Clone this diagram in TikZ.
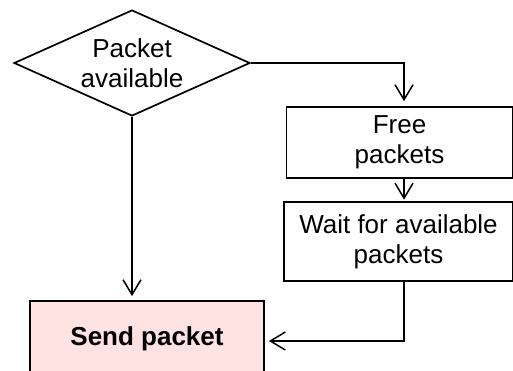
\documentclass[tikz,border=0pt]{standalone}
\usepackage{fontspec}
\setmainfont{Liberation Sans}
\usetikzlibrary{shapes.geometric,arrows.meta}
\definecolor{sendfill}{RGB}{255,226,226}
\begin{document}
\begin{tikzpicture}[x=1pt,y=-1pt,
  every node/.style={font=\fontsize{26}{30}\selectfont, align=center, inner sep=0pt},
  decision/.style={diamond, draw, line width=1.7pt, minimum width=236pt,
                   minimum height=106pt, shape aspect=2.2},
  process/.style={rectangle, draw, line width=1.7pt},
  conn/.style={line width=1.7pt,
               -{Straight Barb[length=15pt,width=18pt,line width=1.5pt]}},
  ]
  \useasboundingbox (0,0) rectangle (513,370);
  \clip (0,0) rectangle (513,370);

  % flowchart nodes
  \node[decision] (pkt) at (132,63) {Packet\\available};
  \node[process, minimum width=226pt, minimum height=71pt] (free)
       at (399.5,142.5) {Free\\packets};
  \node[process, minimum width=229pt, minimum height=79pt] (wait)
       at (398.5,241.5) {Wait for available\\packets};
  % the send box runs on below the lower edge
  \node[process, fill=sendfill, minimum width=234pt, minimum height=76pt,
        font=\fontsize{26}{30}\selectfont\bfseries] (send)
       at (147,339) {Send packet};

  % column of the right-hand connectors
  \coordinate (col) at (404,0);

  % connectors
  \draw[conn, shorten >=5pt] (pkt.east) -| (free.north -| col);
  \draw[conn, shorten >=1.5pt] (free.south -| col) -- (wait.north -| col);
  \draw[conn, shorten >=4pt] (wait.south -| col) |- ([yshift=-2pt]send.east);
  \draw[conn, shorten >=4pt] (pkt.south) -- (send.north -| pkt.south);
\end{tikzpicture}
\end{document}
